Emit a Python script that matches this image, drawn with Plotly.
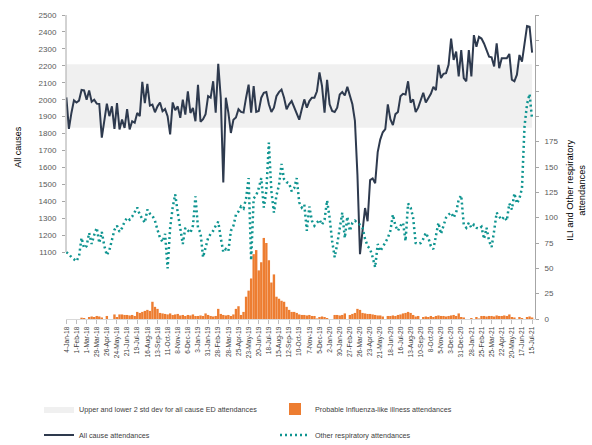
import plotly.graph_objects as go
import pandas as pd

# ---------------- data (weekly) ----------------
START_DATE = "2018-01-04"

all_cause = [
    2014, 1828, 1922, 1996, 1984, 1995, 2058, 2055, 2000, 2055,
    1988, 2000, 1977, 1975, 1776, 1883, 1977, 1903, 1961, 1828,
    1980, 1825, 1883, 1834, 1945, 1825, 1873, 1864, 1922, 1903,
    2105, 1980, 2094, 1965, 1971, 1926, 1961, 1984, 1932, 1945,
    1903, 1795, 1984, 1938, 1961, 1893, 2000, 1912, 2049, 1922,
    1951, 1873, 2088,
    1870, 1885, 1915, 2021, 2012, 2109, 1924, 2212, 2012, 1512,
    2012, 1924, 1804, 1882, 1895, 1944, 1928, 1924, 2012, 2089,
    1924, 2080, 1928, 1934, 2012, 2041, 2045, 1973, 1928, 1953,
    2021, 2045, 2060, 2012, 1944, 1973, 1992, 1953, 1915, 1882,
    1944, 2002, 1953, 1992, 2012, 2012, 2050, 2161, 2080, 1924,
    2118, 1973, 1934, 1928, 1953, 2031, 2045, 2025, 2076, 2031,
    1973, 1876, 1555, 1089, 1225, 1361, 1283, 1526, 1536, 1507,
    1691, 1765, 1808, 1827, 1973, 1885, 1850, 1915, 1928, 2021,
    2035, 2031, 2109, 1983, 2002, 1928, 1953,
    1992, 2041, 1983, 2012, 2035, 2076, 2056, 2206, 2128, 2153,
    2157, 2206, 2361, 2235, 2284, 2138, 2293, 2128, 2109, 2293,
    2138, 2381, 2313, 2371, 2361, 2332, 2293, 2254, 2250, 2196,
    2332, 2186, 2245, 2245, 2245, 2270, 2118, 2109, 2148, 2264,
    2225, 2330, 2435, 2430, 2278,
]

other_resp = [
    66, 64, 61, 59, 57, 62, 80, 70, 72, 85,
    74, 83, 90, 75, 86, 72, 63, 68, 79, 88,
    92, 86, 90, 96, 100, 98, 101, 106, 110, 103,
    99, 95, 108, 104, 102, 97, 88, 80, 76, 84,
    50, 90, 110, 123, 105, 90, 74, 90, 87, 85,
    92, 121, 90,
    85, 61, 71, 80, 84, 87, 92, 96, 80, 66,
    69, 67, 87, 92, 103, 106, 111, 109, 119, 139,
    58, 119, 122, 129, 139, 110, 126, 174, 126, 105,
    122, 132, 153, 138, 135, 134, 126, 129, 139, 115,
    110, 113, 87, 111, 97, 92, 95, 98, 93, 98,
    117, 100, 77, 61, 74, 90, 105, 80, 101, 87,
    95, 97, 95, 93, 90, 79, 72, 69, 61, 51,
    74, 67, 71, 75, 80, 87, 103, 92, 87, 92,
    95, 77, 114, 110, 100, 75, 74,
    75, 79, 85, 80, 72, 69, 82, 95, 84, 93,
    100, 103, 105, 100, 105, 118, 122, 93, 90, 95,
    90, 93, 90, 89, 91, 79, 90, 77, 71, 87,
    105, 101, 98, 101, 97, 114, 108, 124, 114, 119,
    129, 190, 212, 222, 197,
]

ili = [
    0, 0, 0, 0, 0, 0, 1.3, 1, 0, 2,
    2.5, 2, 3, 2.5, 1.5, 0, 3, 0, 0, 4.5,
    2, 4.5, 4.5, 4, 4, 3.5, 4, 3, 7, 6,
    7, 8, 9, 8, 17, 12, 10, 6, 5.5, 5,
    4.5, 5.5, 4, 4.5, 5, 3.5, 4, 3, 4, 3.5,
    4.5, 3, 3, 3.5, 3, 5.5, 4, 3, 2.5, 3,
    10, 5, 4, 3.5, 4, 3, 4.5, 10, 12.6, 4,
    7, 22, 28, 40, 64, 68, 48, 56, 80, 75,
    58, 36, 44, 22, 20, 18, 17, 12, 9, 7,
    7, 6, 4.5, 4, 4, 3.5, 4, 3, 3, 0.5,
    2, 2.5, 2, 1, 0, 0, 4, 4, 3.5, 4,
    5.5, 0, 4, 5, 6, 10, 9, 6, 5.5, 5,
    5, 4.5, 4, 3.5, 3.5, 2.5, 0, 3, 3, 3.5,
    3, 4, 4.5, 5.5, 6, 7, 6, 4, 2.5, 3,
    0, 2, 2.5, 2, 3, 2, 3, 3.5, 3, 3,
    2.5, 3, 3.5, 4, 3, 5.5, 2, 1.5, 0, 0,
    1, 0, 2, 0.5, 3, 3, 2.5, 3, 3, 2.5,
    3.5, 3, 3, 3.5, 3, 4.5, 2, 1.5, 0, 2,
    1, 0, 2, 2.5, 1.5,
]

BAND_LOWER = 1835
BAND_UPPER = 2210

LEFT_TICKS = list(range(1100, 2600, 100))
RIGHT_TICKS = list(range(0, 325, 25))
RIGHT_TICK_LABELS = [str(v) if v <= 175 else "" for v in RIGHT_TICKS]

weeks = pd.date_range(START_DATE, periods=len(all_cause), freq="7D")
band_lo = [BAND_LOWER] * len(weeks)
band_hi = [BAND_UPPER] * len(weeks)

NAVY = "#2E3A4E"
TEAL = "#0E9490"
ORANGE = "#ED7D31"
BAND = "#F0F0F0"
FONT = "Liberation Sans, Arial, sans-serif"
DAY_MS = 86400000

fig = go.Figure()

fig.add_trace(go.Scatter(x=weeks, y=band_lo, mode="lines", line=dict(width=0, color=BAND),
                         showlegend=False, hoverinfo="skip", legend="legend", legendrank=1))
fig.add_trace(go.Scatter(x=weeks, y=band_hi, mode="lines", line=dict(width=0, color=BAND),
                         fill="tonexty", fillcolor=BAND,
                         name="Upper and lower 2 std dev for all cause ED attendances",
                         legend="legend", legendrank=1))
fig.add_trace(go.Bar(x=weeks, y=ili, yaxis="y2", marker=dict(color=ORANGE, line=dict(width=0)),
                     width=6.6 * DAY_MS,
                     name="Probable Influenza-like illness attendances", legend="legend",
                     legendrank=2))
fig.add_trace(go.Scatter(x=weeks, y=all_cause, mode="lines", line=dict(color=NAVY, width=2),
                         name="All cause attendances", legend="legend2", legendrank=1))
fig.add_trace(go.Scatter(x=weeks, y=other_resp, yaxis="y2", mode="lines",
                         line=dict(color=TEAL, width=2.5, dash="2px,3px"),
                         name="Other respiratory attendances", legend="legend2", legendrank=2))

legend_common = dict(orientation="h", xref="container", yref="container",
                     xanchor="left", yanchor="middle", entrywidth=191,
                     entrywidthmode="pixels", bgcolor="rgba(0,0,0,0)",
                     traceorder="normal",
                     font=dict(family=FONT, size=7.2, color="#404040"), itemwidth=30)

fig.update_layout(
    width=592, height=445,
    margin=dict(l=66, r=57, t=11, b=126),
    paper_bgcolor="white", plot_bgcolor="rgba(0,0,0,0)",
    font=dict(family=FONT, size=8, color="#595959"),
    barmode="overlay",
    showlegend=True,
    legend=dict(x=39 / 592, y=1 - 409 / 445, **legend_common),
    legend2=dict(x=39 / 592, y=1 - 435 / 445, **legend_common),
    xaxis=dict(type="date", range=["2018-01-03", "2021-07-23"],
               tick0=START_DATE, dtick=28 * DAY_MS, tickformat="%-d-%b-%y",
               tickangle=-90, tickfont=dict(size=6.6, color="#404040"),
               ticks="outside", ticklen=4, tickcolor="#BFBFBF",
               showline=True, linecolor="#D9D9D9", linewidth=1,
               showgrid=False, zeroline=False),
    yaxis=dict(range=[706, 2500], tickvals=LEFT_TICKS, ticks="outside", ticklen=3,
               tickcolor="#A6A6A6", tickfont=dict(size=8, color="#595959"),
               ticklabelstandoff=4, showline=False, showgrid=False, zeroline=False),
    yaxis2=dict(overlaying="y", side="right", range=[0, 300], tickvals=RIGHT_TICKS,
                ticktext=RIGHT_TICK_LABELS, ticks="outside", ticklen=3,
                tickcolor="#A6A6A6", tickfont=dict(size=8, color="#595959"),
                ticklabelstandoff=4, showline=True, linecolor="#A6A6A6", linewidth=1,
                showgrid=False, zeroline=False),
)

# left axis line only over the labelled part of the scale
fig.add_shape(type="line", xref="paper", yref="y", x0=0, x1=0,
              y0=LEFT_TICKS[0], y1=LEFT_TICKS[-1], line=dict(color="#A6A6A6", width=1))

fig.add_annotation(text="All causes", xref="paper", yref="paper",
                   x=(18 - 66) / 469, y=(319 - 144.5) / 308, textangle=-90,
                   showarrow=False, xanchor="center", yanchor="middle",
                   font=dict(family=FONT, size=9, color="#000000"))
fig.add_annotation(text="ILI and Other respiratory<br>attendances", xref="paper", yref="paper",
                   x=(576 - 66) / 469, y=(319 - 189) / 308, textangle=-90,
                   showarrow=False, xanchor="center", yanchor="middle",
                   font=dict(family=FONT, size=9.3, color="#000000"))

fig.write_html("out.html",
               config={"displayModeBar": False, "staticPlot": True},
               post_script="document.body.style.margin='0px';document.body.style.padding='0px';")
